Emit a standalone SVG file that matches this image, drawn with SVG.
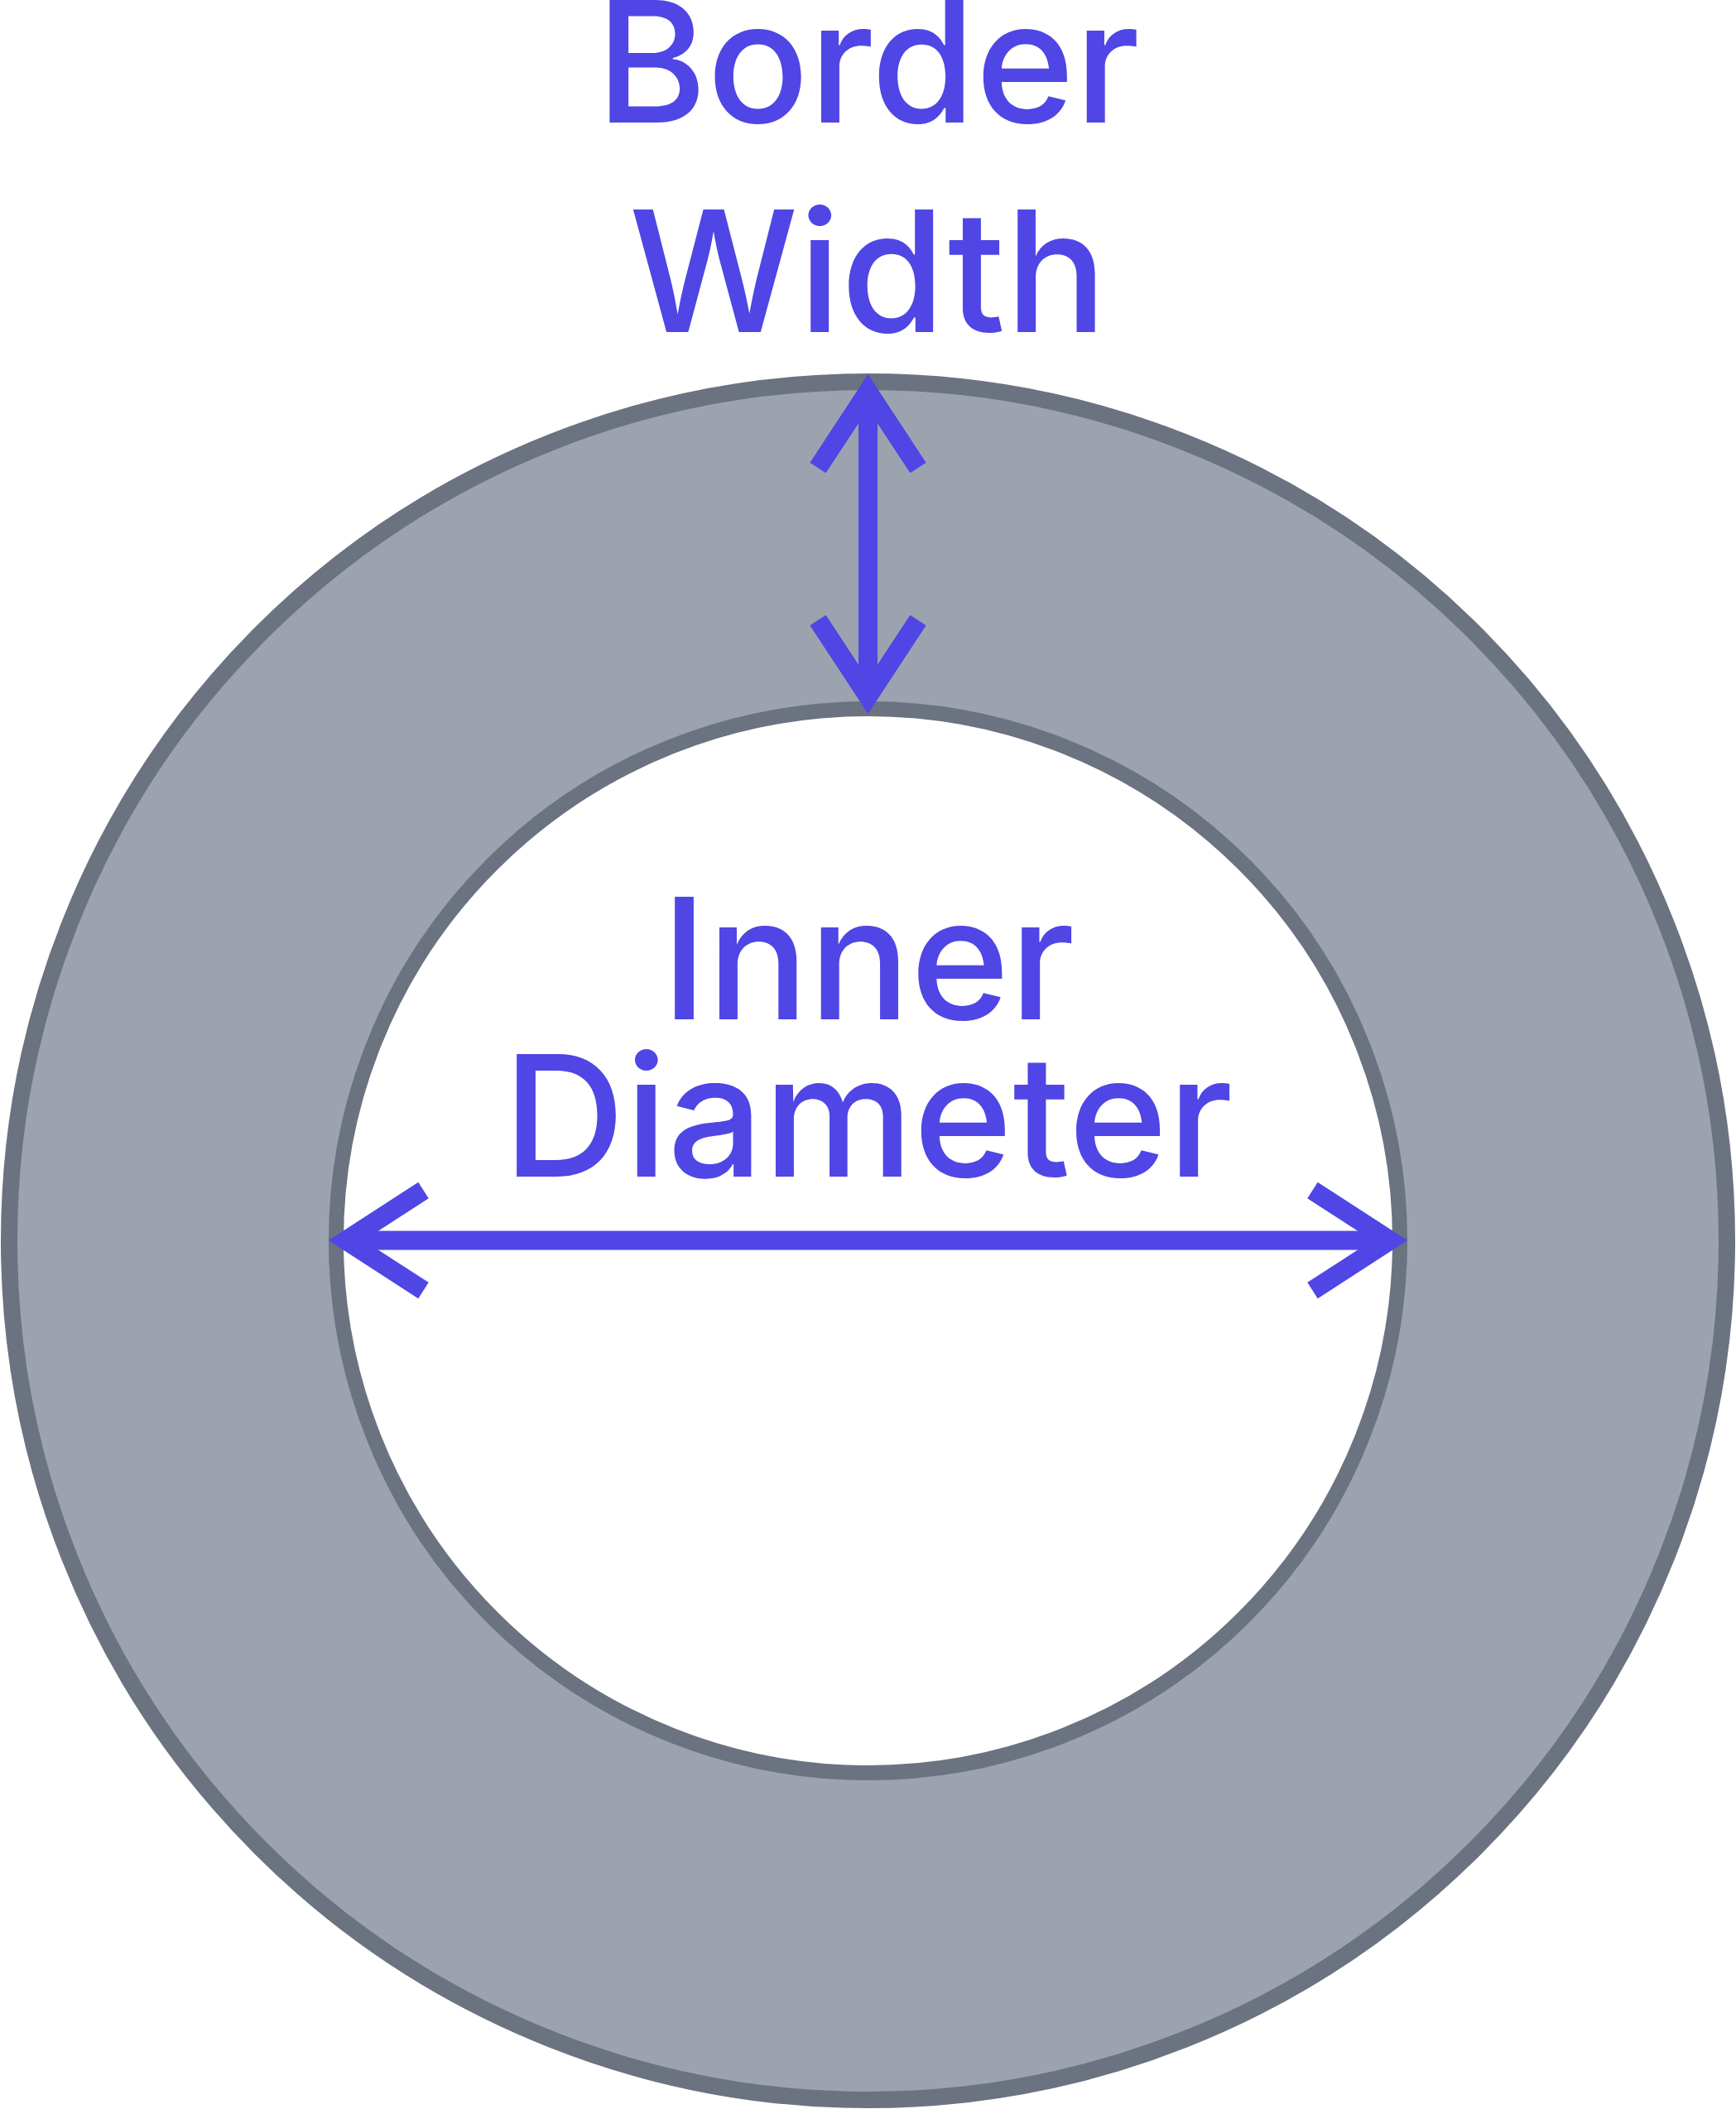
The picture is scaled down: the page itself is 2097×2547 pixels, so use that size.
<svg xmlns="http://www.w3.org/2000/svg" width="2097" height="2547" viewBox="0 0 2097 2547">
<style>
.ring{fill:#9CA3AF;stroke:#6B7280;stroke-width:20}
.hole{fill:#FFFFFF;stroke:#6B7280;stroke-width:18}
.arrow{fill:none;stroke:#4F46E5;stroke-width:23;stroke-linejoin:miter;stroke-miterlimit:10;stroke-linecap:butt}
.label{font-family:Inter,"Liberation Sans",sans-serif;font-weight:500;font-size:204px;fill:#4F46E5;text-anchor:middle}
</style>
<rect width="2097" height="2547" fill="#FFFFFF"/>
<g id="outer-circle">
<circle class="ring" cx="1048.5" cy="1498.5" r="1037.5"/>
</g>
<g id="inner-circle">
<circle class="hole" cx="1048.5" cy="1498.5" r="642.5"/>
</g>
<g id="connectors">
<path class="arrow" d="M1048.5 473 V841"/>
<path class="arrow" d="M988 565 L1048.5 473 L1109 565"/>
<path class="arrow" d="M988 749 L1048.5 841 L1109 749"/>
<path class="arrow" d="M418 1498 H1679"/>
<path class="arrow" d="M511.5 1437.5 L418 1498 L511.5 1558.5"/>
<path class="arrow" d="M1585.5 1437.5 L1679 1498 L1585.5 1558.5"/>
</g>
<g id="label-border-width">
<text class="label" x="1048.5" y="148">Border</text>
<text class="label" x="1048.5" y="401">Width</text>
</g>
<g id="label-inner-diameter">
<text class="label" x="1048.5" y="1231">Inner</text>
<text class="label" x="1048.5" y="1421">Diameter</text>
</g>
</svg>
